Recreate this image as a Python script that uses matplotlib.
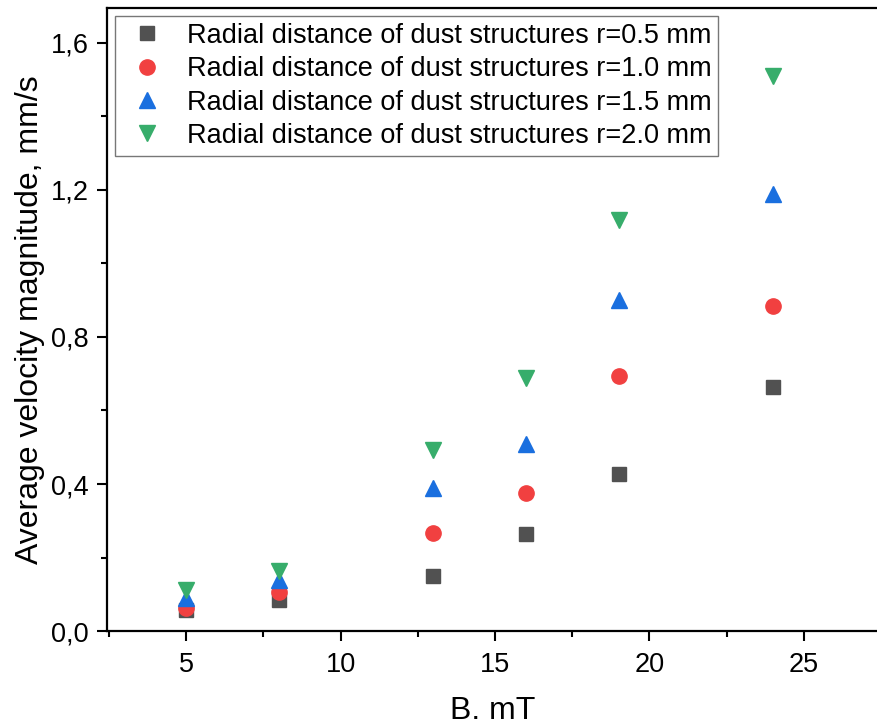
import numpy as np
import matplotlib
matplotlib.use('Agg')
from matplotlib import pyplot as plt
from matplotlib.ticker import MultipleLocator, FuncFormatter

plt.rcParams['font.family'] = ['Liberation Sans', 'DejaVu Sans']

# magnetic field, mT
B = [5, 8, 13, 16, 19, 24]
# average velocity magnitude, mm/s
v_r05 = [0.057, 0.084, 0.150, 0.264, 0.427, 0.664]
v_r10 = [0.063, 0.107, 0.267, 0.375, 0.694, 0.884]
v_r15 = [0.090, 0.139, 0.389, 0.509, 0.900, 1.189]
v_r20 = [0.112, 0.163, 0.493, 0.688, 1.118, 1.510]
labels = ['Radial distance of dust structures r=0.5 mm',
          'Radial distance of dust structures r=1.0 mm',
          'Radial distance of dust structures r=1.5 mm',
          'Radial distance of dust structures r=2.0 mm']

fig = plt.figure(figsize=(8.78, 7.28), dpi=100)
ax = fig.add_axes([0.1219, 0.1332, 0.8781, 0.8558])

ax.plot(B, v_r05, 's', color='#515151', ms=10, label=labels[0])
ax.plot(B, v_r10, 'o', color='#F14040', ms=11, label=labels[1])
ax.plot(B, v_r15, '^', color='#1A6FDF', ms=12, label=labels[2])
ax.plot(B, v_r20, 'v', color='#37AD6B', ms=12, label=labels[3])

ax.set_xlim(2.44, 27.4)
ax.set_ylim(0, 1.695)
ax.xaxis.set_major_locator(MultipleLocator(5))
ax.xaxis.set_minor_locator(MultipleLocator(2.5))
ax.yaxis.set_major_locator(MultipleLocator(0.4))
ax.yaxis.set_minor_locator(MultipleLocator(0.2))
ax.yaxis.set_major_formatter(FuncFormatter(lambda v, p: ('%.1f' % v).replace('.', ',')))

for s in ['left', 'bottom', 'top']:
    ax.spines[s].set_linewidth(1.6)
ax.spines['right'].set_visible(False)
ax.tick_params(which='major', direction='out', length=7, width=1.5, labelsize=19.5)
ax.tick_params(axis='y', pad=6)
ax.tick_params(axis='x', pad=8)
ax.tick_params(which='minor', direction='out', length=4, width=1.5)

ax.set_xlabel('B. mT', fontsize=23, labelpad=13)
ax.set_ylabel('Average velocity magnitude, mm/s', fontsize=23, labelpad=4)

leg = ax.legend(loc='upper left', fontsize=19.5, frameon=True, fancybox=False,
                borderaxespad=0.3, handletextpad=0.55, labelspacing=0.27,
                borderpad=0.25, handlelength=1.85)
leg.get_frame().set_edgecolor('#555555')
leg.get_frame().set_linewidth(1.0)

plt.savefig('out.png', dpi=100)
